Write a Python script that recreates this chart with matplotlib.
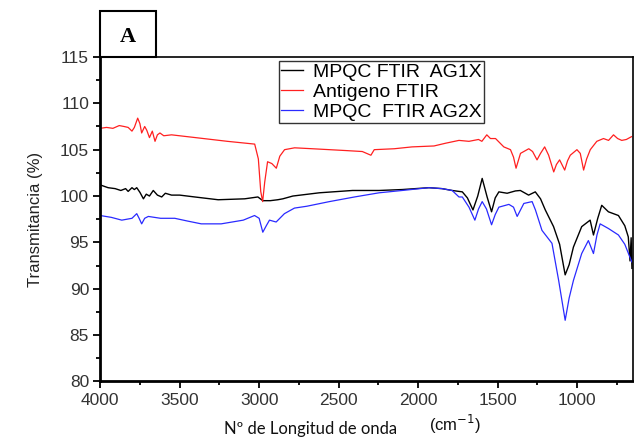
import matplotlib.pyplot as plt
from matplotlib.patches import Rectangle
from matplotlib.ticker import MultipleLocator

plt.rcParams['font.family'] = ['Liberation Sans', 'DejaVu Sans']

# Antigeno FTIR (rojo)
x_ag = [4000, 3960, 3920, 3880, 3850, 3824, 3800, 3785, 3764, 3750, 3739, 3720, 3707, 3690,
        3672, 3655, 3640, 3624, 3600, 3551, 3400, 3200, 3028, 3005, 2990, 2978, 2965, 2947,
        2920, 2892, 2870, 2840, 2777, 2665, 2450, 2351, 2297, 2276, 2150, 2038, 1900, 1826,
        1743, 1680, 1620, 1599, 1568, 1545, 1513, 1461, 1419, 1400, 1384, 1370, 1356, 1304,
        1280, 1252, 1230, 1204, 1179, 1147, 1130, 1110, 1078, 1060, 1043, 1001, 980, 959, 940,
        917, 876, 834, 802, 771, 745, 719, 690, 658]
y_ag = [107.3, 107.4, 107.3, 107.6, 107.5, 107.4, 107.0, 107.4, 108.4, 107.8, 106.8, 107.5,
        107.1, 106.3, 107.0, 105.9, 106.6, 106.8, 106.5, 106.6, 106.3, 105.9, 105.6, 104.0,
        100.5, 99.4, 101.5, 103.7, 103.5, 103.0, 104.3, 105.0, 105.2, 105.1, 104.9, 104.8,
        104.4, 105.0, 105.1, 105.3, 105.4, 105.7, 106.0, 105.9, 106.1, 105.9, 106.6, 106.2,
        106.2, 105.3, 105.0, 104.2, 103.0, 103.8, 104.6, 105.1, 104.8, 103.9, 104.6, 105.3,
        104.4, 102.6, 103.4, 103.9, 102.8, 103.8, 104.4, 105.0, 104.6, 102.8, 104.0, 105.0,
        105.9, 106.2, 106.0, 106.6, 106.2, 106.0, 106.1, 106.4]

# MPQC FTIR AG1X (negro)
x_g1 = [4000, 3950, 3906, 3870, 3840, 3824, 3800, 3785, 3770, 3750, 3728, 3710, 3690, 3666,
        3640, 3613, 3590, 3551, 3500, 3405, 3258, 3091, 3008, 2977, 2930, 2883, 2851, 2788,
        2621, 2412, 2245, 2100, 1932, 1850, 1786, 1722, 1690, 1655, 1625, 1597, 1566, 1538,
        1515, 1492, 1440, 1388, 1357, 1305, 1263, 1230, 1200, 1148, 1110, 1075, 1050, 1023,
        971, 918, 897, 870, 845, 803, 740, 700, 678, 667, 660, 655]
y_g1 = [101.2, 100.9, 100.8, 100.6, 100.8, 100.5, 100.9, 100.7, 100.9, 100.4, 99.7, 100.2,
        100.0, 100.6, 100.1, 99.9, 100.3, 100.1, 100.1, 99.9, 99.6, 99.7, 99.9, 99.5, 99.5,
        99.6, 99.7, 100.0, 100.35, 100.6, 100.6, 100.7, 100.9, 100.8, 100.6, 100.45, 99.8,
        98.5, 100.0, 101.9, 99.9, 98.3, 99.8, 100.45, 100.3, 100.55, 100.6, 100.1, 100.45,
        99.7, 98.5, 96.7, 94.8, 91.5, 92.6, 94.5, 96.7, 97.4, 95.8, 97.6, 99.0, 98.3, 97.9,
        96.8, 95.6, 93.0, 95.5, 92.2]

# MPQC FTIR AG2X (azul)
x_g2 = [4000, 3930, 3864, 3800, 3770, 3755, 3739, 3720, 3697, 3620, 3531, 3450, 3364, 3239,
        3100, 3029, 3000, 2977, 2955, 2935, 2893, 2841, 2778, 2700, 2558, 2400, 2245, 2100,
        1932, 1850, 1786, 1743, 1722, 1680, 1643, 1620, 1597, 1570, 1538, 1515, 1492, 1429,
        1400, 1377, 1335, 1283, 1262, 1221, 1158, 1116, 1075, 1050, 1023, 971, 929, 897, 875,
        855, 803, 740, 700, 656]
y_g2 = [97.9, 97.7, 97.4, 97.6, 98.1, 97.6, 97.0, 97.6, 97.8, 97.6, 97.6, 97.3, 97.0, 97.0,
        97.4, 97.9, 97.6, 96.1, 96.8, 97.4, 97.2, 98.1, 98.7, 98.9, 99.4, 99.9, 100.35, 100.6,
        100.9, 100.8, 100.6, 99.9, 99.9, 98.8, 97.4, 98.6, 99.4, 98.6, 96.9, 98.0, 98.8, 99.1,
        98.8, 97.8, 99.2, 99.4, 98.5, 96.3, 94.9, 90.9, 86.6, 89.0, 90.9, 93.8, 95.2, 93.8,
        95.8, 97.0, 96.5, 95.8, 94.8, 92.9]

fig = plt.figure(figsize=(6.34, 4.38), dpi=100)
ax = fig.add_axes([0.158, 0.129, 0.840, 0.741])

ax.plot(x_g1, y_g1, color='black', lw=1.0, label='MPQC FTIR  AG1X')
ax.plot(x_ag, y_ag, color='#ff2020', lw=0.9, label='Antigeno FTIR')
ax.plot(x_g2, y_g2, color='#2a2aff', lw=0.9, label='MPQC  FTIR AG2X')

ax.set_xlim(4000, 650)
ax.set_ylim(80, 115)
ax.xaxis.set_major_locator(MultipleLocator(500))
ax.xaxis.set_minor_locator(MultipleLocator(250))
ax.yaxis.set_major_locator(MultipleLocator(5))
ax.yaxis.set_minor_locator(MultipleLocator(2.5))
ax.tick_params(which='both', direction='out', top=False, right=False,
               labelsize=12.5, labelcolor='#333333', width=1.3)
ax.tick_params(which='major', length=5, pad=3)
ax.tick_params(which='minor', length=3)
ax.spines['left'].set_linewidth(2)
ax.spines['bottom'].set_linewidth(2)
ax.spines['top'].set_linewidth(1.2)
ax.spines['right'].set_linewidth(1.2)

ax.set_ylabel('Transmitancia (%)', fontsize=12, color='#222222', labelpad=12)

leg = ax.legend(loc='upper left', bbox_to_anchor=(0.336, 0.988), fontsize=14,
                fancybox=False, framealpha=1, edgecolor='#333333',
                handlelength=1.1, handletextpad=0.5, borderpad=0.12, labelspacing=0.12,
                borderaxespad=0.0)
leg.get_frame().set_linewidth(1.0)

fig.text(0.49, 0.021, 'Nº de Longitud de onda', fontsize=12, family=['Lato', 'DejaVu Sans'],
         ha='center', va='center', color='#111111')
fig.text(0.718, 0.032, r'(cm$^{-1}$)', fontsize=12, family=['Liberation Sans', 'DejaVu Sans'],
         ha='center', va='center', color='#111111')

fig.patches.append(Rectangle((0.158, 0.870), 0.088, 0.105, transform=fig.transFigure,
                             fill=False, edgecolor='black', lw=1.5))
fig.text(0.202, 0.915, 'A', fontsize=16, fontweight='bold',
         family=['Liberation Serif', 'DejaVu Serif'], ha='center', va='center')

fig.savefig('out.png', dpi=100)
